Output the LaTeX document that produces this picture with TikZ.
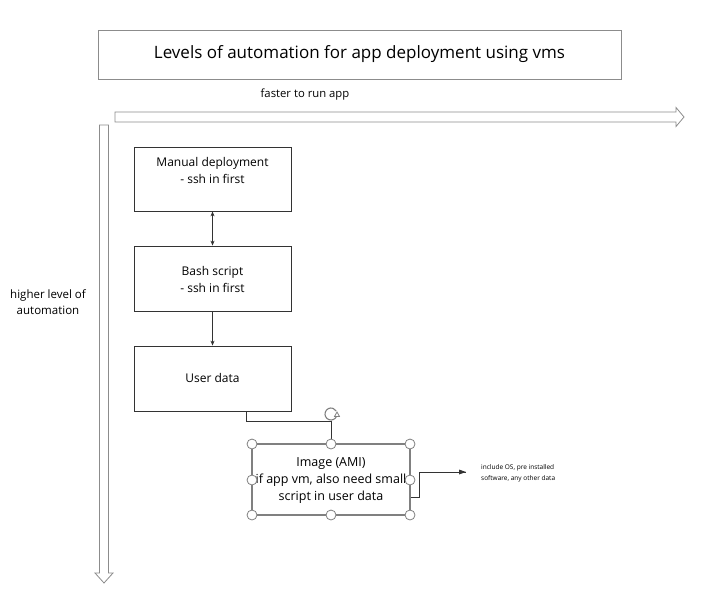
\documentclass[tikz,border=0pt]{standalone}
\usepackage{fontspec}
\setmainfont{Open Sans}
\usetikzlibrary{arrows.meta}
\definecolor{edge}{HTML}{333333}
\definecolor{hollow}{HTML}{8C8C8C}
\definecolor{handle}{HTML}{808080}
\tikzset{
  box/.style={draw=edge, line width=0.8pt, fill=white},
  txt/.style={font=\fontsize{12}{17}\selectfont, align=center, inner sep=0pt},
  conn/.style={draw=edge, line width=0.7pt},
  tip/.style={-{Stealth[length=5pt,width=4pt]}},
  hollowarrow/.style={draw=hollow, line width=0.8pt, fill=white, line join=miter},
  selhandle/.style={circle, draw=handle, fill=white, line width=0.8pt, minimum size=10pt, inner sep=0pt},
}
\begin{document}
\begin{tikzpicture}[x=1pt,y=-1pt]
\useasboundingbox (0,0) rectangle (714,603);
% title
\node[draw=hollow, line width=0.8pt, minimum width=523pt, minimum height=49pt, inner sep=0pt,
      font=\fontsize{17}{20}\selectfont] (title) at (359.5,54.5) {Levels of automation for app deployment using vms};
% horizontal hollow arrow
\draw[hollowarrow] (115,112) coordinate (hstart) -- (676,112) -- (676,107.5) -- (684,117) -- (676,126.5) -- (676,122) -- (115,122) -- cycle;
\node[font=\fontsize{11.3}{14}\selectfont, inner sep=0pt] (faster) at (305,95) {faster to run app};
% vertical hollow arrow
\draw[hollowarrow] (99.5,125) -- (99.5,573) -- (95,573) -- (104,583) -- (113,573) -- (108.5,573) -- (108.5,125) -- cycle;
\node[txt, font=\fontsize{11.5}{16}\selectfont] (higher) at (48,302) {higher level of\\automation};
% boxes
\node[box, minimum width=157pt, minimum height=64pt, inner sep=0pt] (manual) at (212.5,179) {};
\node[txt] (manualt) at (212.5,170) {Manual deployment\\- ssh in first};
\node[box, minimum width=157pt, minimum height=65pt, inner sep=0pt] (bash) at (212.5,278.5) {};
\node[txt] (basht) at (212.5,279) {Bash script\\- ssh in first};
\node[box, minimum width=157pt, minimum height=65pt, inner sep=0pt] (user) at (212.5,378.5) {};
\node[txt] (usert) at (212.5,378) {User data};
% image box
\node[draw=handle, line width=1.2pt, fill=white, minimum width=158pt, minimum height=71pt, inner sep=0pt] (image) at (331,479.5) {};
\node[txt, font=\fontsize{12.5}{17}\selectfont] (imaget) at (331,481) {Image (AMI)\\if app vm, also need small\\script in user data};
% connectors
\draw[conn, {Stealth[length=5pt,width=4pt]}-{Stealth[length=5pt,width=4pt]}] (manual.south) -- (bash.north);
\draw[conn, tip] (bash.south) -- (user.north);
\coordinate (c1) at (246,421);
\coordinate (c2) at (331,421);
\draw[conn] (user.south -| c1) -- (c1) -- (c2) -- (image.north);
% note
\coordinate (n1) at (419,497);
\coordinate (n2) at (419,472);
\coordinate (n3) at (466,472);
\draw[conn, line width=0.6pt] (image.east |- n1) -- (n1) -- (n2) -- (n3);
\fill[edge] (466,472) -- (459,469.5) -- (459,474.5) -- cycle;
\node[font=\fontsize{6.5}{11}\selectfont, align=left, anchor=west, inner sep=0pt] (note) at (481,473.5) {include OS, pre installed\\software, any other data};
% selection handles
\foreach \p/\n in {(252,444)/h1,(331,444)/h2,(410,444)/h3,(252,480)/h4,(410,480)/h5,(252,515)/h6,(331,515)/h7,(410,515)/h8}
  \node[selhandle] (\n) at \p {};
% rotation handle
\node[circle, fill=white, minimum size=14pt, inner sep=0pt] (rot) at (331,414) {};
\draw[draw=handle, line width=1.1pt] (331,414) ++(20:6) arc (20:330:6);
\draw[draw=handle, line width=0.8pt, fill=white, line join=miter] (334.5,416.5) -- (339.5,416.5) -- (337,412) -- cycle;
\end{tikzpicture}
\end{document}
